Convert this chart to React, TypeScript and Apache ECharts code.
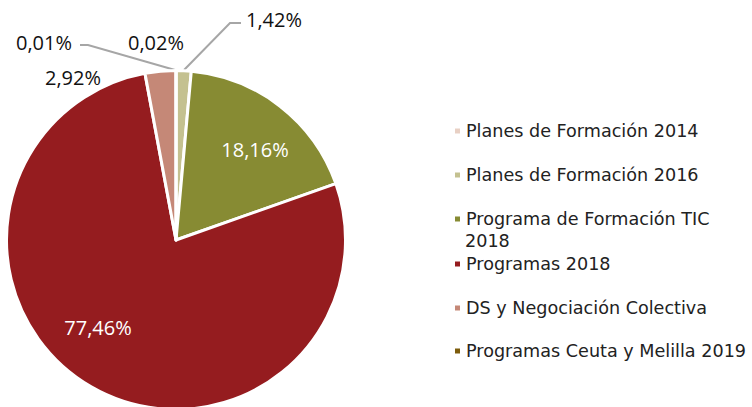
import React, { useEffect, useRef } from "react";
import * as echarts from "echarts";

const CATEGORIES = [
  "Planes de Formación 2014",
  "Planes de Formación 2016",
  "Programa de Formación TIC 2018",
  "Programas 2018",
  "DS y Negociación Colectiva",
  "Programas Ceuta y Melilla 2019",
];
const SHARES = [0.02, 1.42, 18.16, 77.46, 2.92, 0.01];
const COLORS = ["#E8D0C4", "#C4C190", "#878B33", "#951C1F", "#C58877", "#7D5C0C"];
const LEGEND_LABELS = [
  "Planes de Formación 2014",
  "Planes de Formación 2016",
  "Programa de Formación TIC",
  "Programas 2018",
  "DS y Negociación Colectiva",
  "Programas Ceuta y Melilla 2019",
];

// layout (not data): label centres and leader lines
const LABEL_POS: [number, number][] = [
  [156, 42],
  [274, 19],
  [255, 149],
  [98, 327],
  [73, 77],
  [44, 42],
];
const LEADERS: ([number, number][] | null)[] = [
  null,
  [[184, 70], [230, 23], [241, 23]],
  null,
  null,
  null,
  [[175, 70], [88, 45], [80, 45]],
];
const LEGEND_ROWS = [131, 175, 219, 264, 308, 351];

const fmt = (v: number) => v.toFixed(2).replace(".", ",") + "%";

export default function App() {
  const ref = useRef<HTMLDivElement>(null);
  useEffect(() => {
    if (!ref.current) return;
    const chart = echarts.init(ref.current, null, { renderer: "svg" });
    const legendFont = { fontFamily: "DejaVu Sans", fontSize: 17.6, color: "#222222", lineHeight: 20 };
    chart.setOption({
      animation: false,
      backgroundColor: "#ffffff",
      legend: CATEGORIES.map((name, i) => ({
        data: [name],
        left: 453,
        top: LEGEND_ROWS[i] - 10,
        padding: 0,
        orient: "vertical",
        icon: "rect",
        itemWidth: 7,
        itemHeight: 7,
        selectedMode: false,
        textStyle: legendFont,
        formatter: () => LEGEND_LABELS[i],
      })),
      graphic: [
        {
          type: "text",
          left: 465,
          top: 241 - 10,
          style: {
            text: "2018",
            fill: "#222222",
            font: '17.6px "DejaVu Sans"',
            lineHeight: 20,
          },
        },
      ],
      series: [
        {
          type: "pie",
          center: [176, 240],
          radius: 169.5,
          startAngle: 90,
          clockwise: true,
          avoidLabelOverlap: false,
          minShowLabelAngle: 0,
          itemStyle: { borderColor: "#ffffff", borderWidth: 3 },
          label: {
            show: true,
            position: "outside",
            fontFamily: "Open Sans",
            fontSize: 20,
            color: "#111111",
            formatter: (p: any) => fmt(p.value),
          },
          labelLine: {
            show: true,
            lineStyle: { color: "#A6A6A6", width: 2 },
          },
          emphasis: { disabled: true },
          labelLayout: (p: any) => {
            const i = p.dataIndex;
            const res: any = {
              x: LABEL_POS[i][0],
              y: LABEL_POS[i][1],
              align: "center",
              verticalAlign: "middle",
            };
            if (LEADERS[i]) res.labelLinePoints = LEADERS[i];
            return res;
          },
          data: CATEGORIES.map((name, i) => {
            const inside = i === 2 || i === 3;
            return {
              name,
              value: SHARES[i],
              itemStyle: { color: COLORS[i] },
              label: inside ? { position: "inside", color: "#ffffff" } : {},
              labelLine: { show: !!LEADERS[i] },
            };
          }),
        },
      ],
    });
    return () => chart.dispose();
  }, []);
  return (
    <div
      ref={ref}
      style={{ position: "fixed", left: 0, top: 0, width: 752, height: 407 }}
    />
  );
}
